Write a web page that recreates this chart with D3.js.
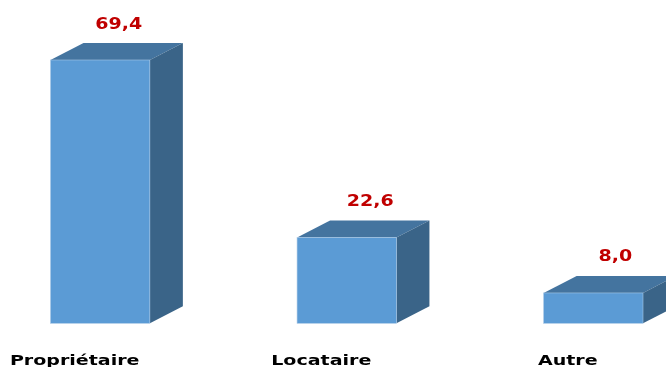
<!DOCTYPE html>
<html><head><meta charset="utf-8">
<script src="https://cdn.jsdelivr.net/npm/d3@7"></script>
<style>html,body{margin:0;padding:0;background:#fff;overflow:hidden}svg{display:block}
text{font-family:"DejaVu Sans",sans-serif;filter:blur(0.35px)}</style></head>
<body><svg id="c" width="666" height="367"></svg>
<script>
const categories = ["Propriétaire", "Locataire", "Autre"];
const values = [69.4, 22.6, 8.0];
const valueLabels = ["69,4", "22,6", "8,0"];

const svg = d3.select("#c");
const x = d3.scaleBand().domain(categories).range([50.5, 643]).paddingInner(0.597).paddingOuter(0);
const y = d3.scaleLinear().domain([0, 69.4]).range([323.3, 60]);
const dx = 33, dy = 17;
const valueNudge = [18.5, 23.5, 22];
const wide = 1.27;

const g = svg.selectAll("g.bar").data(categories).join("g").attr("class", "bar");
const path = (pts) => d3.line()(pts) + "Z";
g.append("path").attr("fill", "#44749f").attr("d", (c, i) => {
  const l = x(c), r = l + x.bandwidth(), t = y(values[i]);
  return path([[l, t], [l + dx, t - dy], [r + dx, t - dy], [r, t]]);
});
g.append("path").attr("fill", "#3a6488").attr("d", (c, i) => {
  const r = x(c) + x.bandwidth(), t = y(values[i]), b = y(0);
  return path([[r, t], [r + dx, t - dy], [r + dx, b - dy], [r, b]]);
});
g.append("rect").attr("fill", "#5b9bd5")
  .attr("stroke", "#a9c8e6").attr("stroke-width", 0.6)
  .attr("x", c => x(c)).attr("width", x.bandwidth())
  .attr("y", (c, i) => y(values[i])).attr("height", (c, i) => y(0) - y(values[i]));
g.append("text").attr("fill", "#c00000").attr("text-anchor", "middle")
  .attr("font-size", 15).attr("font-weight", 700)
  .attr("transform", (c, i) => `translate(${x(c) + x.bandwidth() / 2 + valueNudge[i]},${y(values[i]) - 31.5}) scale(${wide},1)`)
  .text((c, i) => valueLabels[i]);
g.append("text").attr("fill", "#000").attr("text-anchor", "middle")
  .attr("font-size", 14).attr("font-weight", 700)
  .attr("transform", c => `translate(${x(c) + x.bandwidth() / 2 - 25.5},364.5) scale(1.36,1)`)
  .text(c => c);
</script></body></html>
